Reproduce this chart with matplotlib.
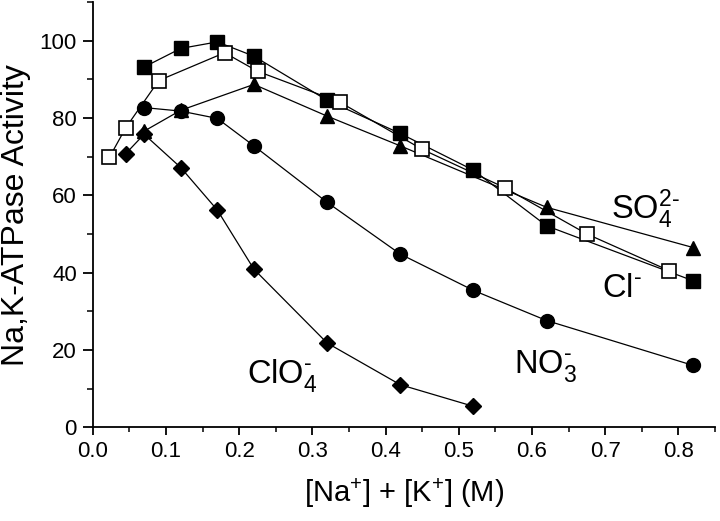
import matplotlib
matplotlib.use("Agg")
import matplotlib.pyplot as plt
from matplotlib.ticker import MultipleLocator, FormatStrFormatter

plt.rcParams['font.family'] = ['Liberation Sans', 'DejaVu Sans']
plt.rcParams['mathtext.fontset'] = 'custom'
plt.rcParams['mathtext.rm'] = 'Liberation Sans'
plt.rcParams['mathtext.it'] = 'Liberation Sans'
plt.rcParams['mathtext.bf'] = 'Liberation Sans'
plt.rcParams['mathtext.default'] = 'regular'

# Filled squares
sq_x = [0.07, 0.12, 0.17, 0.22, 0.32, 0.42, 0.52, 0.62, 0.82]
sq_y = [93.2, 98.0, 99.7, 96.0, 84.6, 76.0, 66.5, 52.1, 37.9]
# Open squares
osq_x = [0.0225, 0.045, 0.09, 0.18, 0.225, 0.3375, 0.45, 0.5625, 0.675, 0.7875]
osq_y = [69.8, 77.5, 89.7, 96.9, 92.1, 84.1, 71.9, 62.0, 50.0, 40.5]
# Triangles
tri_x = [0.07, 0.12, 0.22, 0.32, 0.42, 0.62, 0.82]
tri_y = [76.6, 82.0, 88.7, 80.5, 72.8, 56.9, 46.5]
# Circles
cir_x = [0.07, 0.12, 0.17, 0.22, 0.32, 0.42, 0.52, 0.62, 0.82]
cir_y = [82.7, 81.8, 79.9, 72.8, 58.2, 44.8, 35.4, 27.6, 16.0]
# Diamonds
dia_x = [0.045, 0.07, 0.12, 0.17, 0.22, 0.32, 0.42, 0.52]
dia_y = [70.8, 75.8, 67.2, 56.2, 40.9, 21.8, 11.0, 5.4]

fig = plt.figure(figsize=(7.2, 5.21), dpi=100)
ax = fig.add_axes([0.129, 0.180, 0.864, 0.816])

lw = 0.9
ms = 9.5
ax.plot(tri_x, tri_y, '-', color='black', lw=lw, marker='^', ms=ms + 1, mfc='black', mec='black', zorder=3)
ax.plot(sq_x, sq_y, '-', color='black', lw=lw, marker='s', ms=ms, mfc='black', mec='black', zorder=3)
ax.plot(osq_x, osq_y, '-', color='black', lw=lw, marker='s', ms=ms, mfc='white', mec='black', mew=1.2, zorder=4)
ax.plot(cir_x, cir_y, '-', color='black', lw=lw, marker='o', ms=ms + 0.5, mfc='black', mec='black', zorder=3)
ax.plot(dia_x, dia_y, '-', color='black', lw=lw, marker='D', ms=ms - 1.5, mfc='black', mec='black', zorder=3)

ax.set_xlim(0, 0.85)
ax.set_ylim(0, 110)
ax.xaxis.set_major_locator(MultipleLocator(0.1))
ax.xaxis.set_minor_locator(MultipleLocator(0.05))
ax.yaxis.set_major_locator(MultipleLocator(20))
ax.yaxis.set_minor_locator(MultipleLocator(10))
ax.xaxis.set_major_formatter(FormatStrFormatter('%.1f'))

for s in ['top', 'right']:
    ax.spines[s].set_visible(False)
for s in ['left', 'bottom']:
    ax.spines[s].set_linewidth(1.3)

ax.tick_params(which='major', direction='out', width=1.3, labelsize=16, pad=4)
ax.tick_params(axis='x', which='major', length=6)
ax.tick_params(axis='y', which='major', length=7.5)
ax.tick_params(axis='x', which='minor', length=3.5, width=1.1)
ax.tick_params(axis='y', which='minor', length=4, width=1.1)

ax.set_xlabel('[Na$^{+}$] + [K$^{+}$] (M)', fontsize=21, labelpad=10)
ax.set_ylabel('Na,K-ATPase Activity', fontsize=23, labelpad=6)

fs = 23.5
hy = '\u2010'
ax.text(0.708, 56.5, 'SO$_4^{2' + hy + '}$', fontsize=fs, va='center', ha='left')
ax.text(0.695, 36, 'Cl$^{' + hy + '}$', fontsize=fs, va='center', ha='left')
ax.text(0.575, 15.8, 'NO$_3^{' + hy + '}$', fontsize=fs, va='center', ha='left')
ax.text(0.21, 13.5, 'ClO$_4^{' + hy + '}$', fontsize=fs, va='center', ha='left')

fig.savefig('out.png', dpi=100)
